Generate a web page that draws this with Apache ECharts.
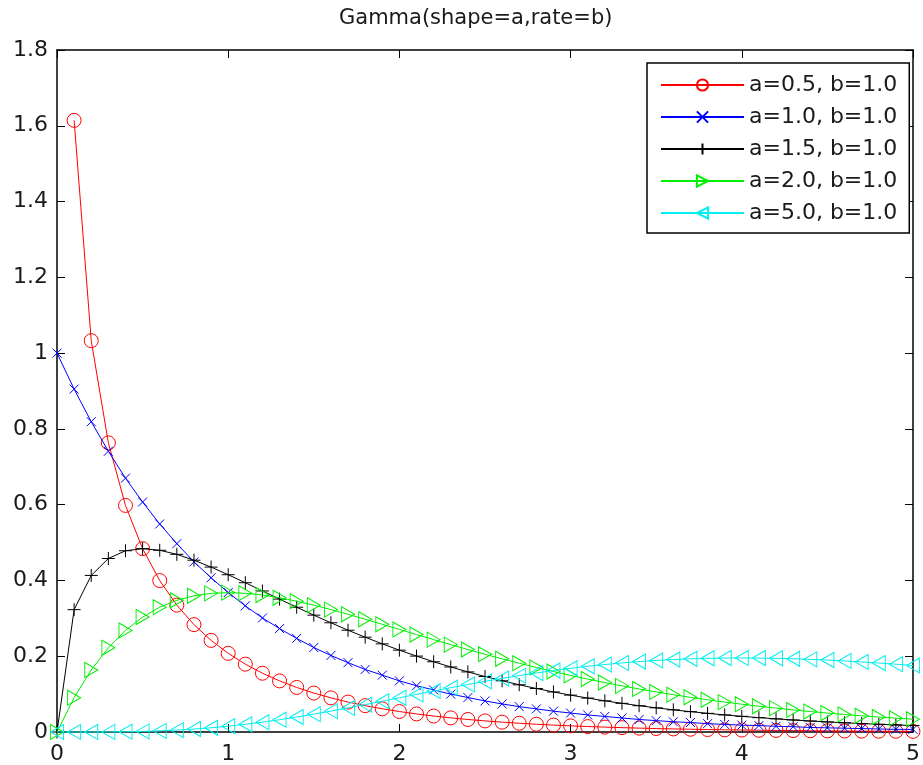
<!DOCTYPE html>
<html>
<head>
<meta charset="utf-8">
<script src="https://cdn.jsdelivr.net/npm/echarts@6/dist/echarts.min.js"></script>
<style>html,body{margin:0;padding:0;background:#fff;}#chart{width:923px;height:765px;}</style>
</head>
<body>
<div id="chart"></div>
<script>
// x positions (0 to 5, step 0.1)
var xValues = [0,0.1,0.2,0.3,0.4,0.5,0.6,0.7,0.8,0.9,1.0,1.1,1.2,1.3,1.4,1.5,1.6,1.7,1.8,1.9,2.0,2.1,2.2,2.3,2.4,2.5,2.6,2.7,2.8,2.9,3.0,3.1,3.2,3.3,3.4,3.5,3.6,3.7,3.8,3.9,4.0,4.1,4.2,4.3,4.4,4.5,4.6,4.7,4.8,4.9,5.0];

var seriesNames = ['a=0.5, b=1.0','a=1.0, b=1.0','a=1.5, b=1.0','a=2.0, b=1.0','a=5.0, b=1.0'];

var yA05 = [null,1.6143,1.0329,0.7631,0.5980,0.4839,0.3997,0.3349,0.2834,0.2418,0.2076,0.1791,0.1551,0.1349,0.1176,0.1028,0.0901,0.0790,0.0695,0.0612,0.0540,0.0477,0.0421,0.0373,0.0330,0.0293,0.0260,0.0231,0.0205,0.0182,0.0162,0.0144,0.0129,0.0115,0.0102,0.0091,0.0081,0.0073,0.0065,0.0058,0.0052,0.0046,0.0041,0.0037,0.0033,0.0030,0.0026,0.0024,0.0021,0.0019,0.0017];
var yA10 = [1.000,0.905,0.819,0.741,0.670,0.607,0.549,0.497,0.449,0.407,0.368,0.333,0.301,0.273,0.247,0.223,0.202,0.183,0.165,0.150,0.135,0.122,0.111,0.100,0.091,0.082,0.074,0.067,0.061,0.055,0.050,0.045,0.041,0.037,0.033,0.030,0.027,0.025,0.022,0.020,0.018,0.017,0.015,0.014,0.012,0.011,0.010,0.009,0.008,0.007,0.007];
var yA15 = [0,0.3229,0.4132,0.4579,0.4784,0.4839,0.4796,0.4689,0.4534,0.4352,0.4151,0.3940,0.3722,0.3507,0.3293,0.3084,0.2883,0.2686,0.2502,0.2326,0.2160,0.2003,0.1854,0.1716,0.1586,0.1464,0.1352,0.1246,0.1148,0.1057,0.0973,0.0895,0.0823,0.0757,0.0694,0.0638,0.0585,0.0537,0.0492,0.0451,0.0413,0.0379,0.0347,0.0317,0.0290,0.0266,0.0243,0.0223,0.0204,0.0186,0.0170];
var yA20 = [0,0.0905,0.1637,0.2222,0.2681,0.3033,0.3293,0.3476,0.3595,0.3659,0.3679,0.3662,0.3614,0.3543,0.3452,0.3347,0.3230,0.3106,0.2975,0.2842,0.2707,0.2572,0.2438,0.2306,0.2177,0.2052,0.1931,0.1815,0.1703,0.1596,0.1494,0.1397,0.1304,0.1217,0.1135,0.1057,0.0984,0.0915,0.0850,0.0789,0.0733,0.0679,0.0630,0.0583,0.0540,0.0500,0.0462,0.0427,0.0395,0.0365,0.0337];
var yA50 = [0,0.0000,0.0001,0.0003,0.0007,0.0016,0.0030,0.0050,0.0077,0.0111,0.0153,0.0203,0.0260,0.0324,0.0395,0.0471,0.0551,0.0636,0.0723,0.0812,0.0902,0.0992,0.1082,0.1169,0.1254,0.1336,0.1414,0.1488,0.1557,0.1622,0.1680,0.1734,0.1781,0.1823,0.1858,0.1888,0.1912,0.1931,0.1944,0.1951,0.1954,0.1951,0.1944,0.1933,0.1917,0.1898,0.1875,0.1849,0.1820,0.1789,0.1755];

var xTicks = [0,1,2,3,4,5];
var yTicks = [0,0.2,0.4,0.6,0.8,1,1.2,1.4,1.6,1.8];

var colors = ['#ff0000','#0000ff','#000000','#00ee00','#00eeee'];
var symbols = [
  'circle',
  'path://M0,0L10,10M10,0L0,10',
  'path://M5,0L5,10M0,5L10,5',
  'path://M0,0L10,5L0,10Z',
  'path://M10,0L0,5L10,10Z'
];
var symbolSizes = [14, 9, 13, [13,15], [13,15]];
var allY = [yA05, yA10, yA15, yA20, yA50];

function pairs(ys) {
  return xValues.map(function (x, i) { return [x, ys[i]]; });
}

var FONT = 'DejaVu Sans';
var series = allY.map(function (ys, k) {
  return {
    name: seriesNames[k],
    type: 'line',
    data: pairs(ys),
    color: colors[k],
    symbol: symbols[k],
    symbolSize: symbolSizes[k],
    showAllSymbol: true,
    clip: false,
    connectNulls: false,
    animation: false,
    lineStyle: { color: colors[k], width: 1 },
    itemStyle: { color: 'none', borderColor: colors[k], borderWidth: 1 },
    emphasis: { disabled: true },
    z: 2 + k
  };
});

var axisLine = { show: true, onZero: false, lineStyle: { color: '#000', width: 1.5 } };
var tick = { show: true, inside: true, length: 8, lineStyle: { color: '#000', width: 1 } };

var chart = echarts.init(document.getElementById('chart'), null, { renderer: 'canvas' });
chart.setOption({
  backgroundColor: '#ffffff',
  animation: false,
  title: {
    text: 'Gamma(shape=a,rate=b)',
    left: 339, top: 8, padding: 0,
    textStyle: { fontFamily: FONT, fontSize: 21, fontWeight: 'normal', color: '#1a1a1a' }
  },
  legend: {
    orient: 'vertical',
    left: 647, top: 63,
    padding: [11, 12, 9, 13],
    itemGap: 10,
    itemWidth: 83,
    itemHeight: 14,
    backgroundColor: '#ffffff',
    borderColor: '#000',
    borderWidth: 1.5,
    borderRadius: 0,
    selectedMode: false,
    textStyle: { fontFamily: FONT, fontSize: 22, color: '#1a1a1a' },
    data: seriesNames
  },
  grid: { left: 57, right: 2, top: 50, bottom: 33, containLabel: false },
  xAxis: [
    {
      type: 'value', min: xTicks[0], max: xTicks[xTicks.length - 1], interval: 1,
      axisLine: axisLine, axisTick: tick, splitLine: { show: false },
      axisLabel: { fontFamily: FONT, fontSize: 22, color: '#1a1a1a', margin: 11 }
    },
    {
      type: 'value', position: 'top', min: xTicks[0], max: xTicks[xTicks.length - 1], interval: 1,
      axisLine: axisLine, axisTick: tick, splitLine: { show: false }, axisLabel: { show: false }
    }
  ],
  yAxis: [
    {
      type: 'value', min: yTicks[0], max: yTicks[yTicks.length - 1], interval: 0.2,
      axisLine: axisLine, axisTick: tick, splitLine: { show: false },
      axisLabel: { fontFamily: FONT, fontSize: 22, color: '#1a1a1a', margin: 9 }
    },
    {
      type: 'value', position: 'right', min: yTicks[0], max: yTicks[yTicks.length - 1], interval: 0.2,
      axisLine: axisLine, axisTick: tick, splitLine: { show: false }, axisLabel: { show: false }
    }
  ],
  series: series
});
</script>
</body>
</html>
